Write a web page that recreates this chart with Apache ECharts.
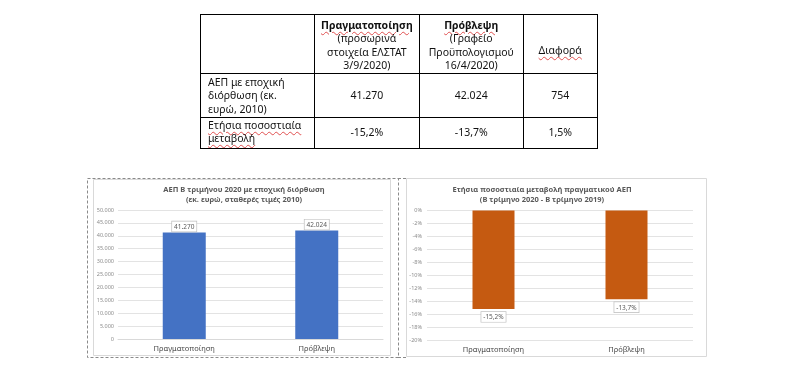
<!DOCTYPE html>
<html><head><meta charset="utf-8">
<script src="https://cdn.jsdelivr.net/npm/echarts@6/dist/echarts.min.js"></script>
<style>
html,body{margin:0;padding:0;background:#fff;width:799px;height:391px;overflow:hidden}
#c{position:absolute;left:0;top:0;width:799px;height:391px}
table{position:absolute;left:200px;top:14px;border-collapse:collapse;font-family:"Noto Sans",sans-serif;font-size:10.5px;line-height:13.3px;color:#111;table-layout:fixed}
td{border:1.3px solid #000;padding:0 6px;overflow:hidden;text-align:center;vertical-align:middle}
td.lbl{text-align:left;vertical-align:top;padding-left:7px}
.sq{text-decoration:underline wavy #e05050;text-decoration-thickness:0.7px;text-underline-offset:1.5px}
b{font-weight:700}
</style></head>
<body>
<div id="c"></div>
<table id="t"></table>
<script>
// ---- data ----
const tableHeaders = [
  [],
  ['<b class="sq">Πραγματοποίηση</b>', '(προσωρινά', 'στοιχεία ΕΛΣΤΑΤ', '3/9/2020)'],
  ['<b class="sq">Πρόβλεψη</b>', '(Γραφείο', 'Προϋπολογισμού', '16/4/2020)'],
  ['<span class="sq">Διαφορά</span>']
];
const tableRowLabels = [
  ['ΑΕΠ με εποχική', 'διόρθωση (εκ.', 'ευρώ, 2010)'],
  ['<span class="sq">Ετήσια ποσοστιαία</span>', '<span class="sq">μεταβολή</span>']
];
const tableValues = [
  ['41.270', '42.024', '754'],
  ['-15,2%', '-13,7%', '1,5%']
];
const categories = ['Πραγματοποίηση', 'Πρόβλεψη'];
const gdpValues = [41270, 42024];
const changeValues = [-15.2, -13.7];
const gdpTitle = ['ΑΕΠ Β τριμήνου 2020 με εποχική διόρθωση', '(εκ. ευρώ, σταθερές τιμές 2010)'];
const changeTitle = ['Ετήσια ποσοστιαία μεταβολή πραγματικού ΑΕΠ', '(Β τρίμηνο 2020 - Β τρίμηνο 2019)'];

// ---- table ----
const colW = [114, 104, 104, 74];
const rowH = [59, 44, 31];
let html = '<colgroup>' + colW.map(w => '<col style="width:' + w + 'px">').join('') + '</colgroup>';
html += '<tr style="height:' + rowH[0] + 'px">' + tableHeaders.map((h, i) =>
  '<td style="padding-top:' + (i === 3 ? 14 : 3) + 'px">' + h.join('<br>') + '</td>').join('') + '</tr>';
tableRowLabels.forEach((r, k) => {
  html += '<tr style="height:' + rowH[k + 1] + 'px"><td class="lbl" style="padding-top:' + (k === 0 ? 2 : 1) + 'px">' + r.join('<br>') + '</td>' +
    tableValues[k].map(v => '<td>' + v + '</td>').join('') + '</tr>';
});
document.getElementById('t').innerHTML = html;

// ---- charts ----
const fmtThousands = v => String(v).replace(/\B(?=(\d{3})+(?!\d))/g, '.');
const fmtPct = v => String(v).replace('.', ',') + '%';
const grey = '#595959';
const font = '"Noto Sans", sans-serif';
const chart = echarts.init(document.getElementById('c'), null, {renderer: 'canvas'});
const labelBox = {
  show: true, fontSize: 6.5, color: grey, fontFamily: font,
  backgroundColor: '#fff', borderColor: '#bfbfbf', borderWidth: 0.7, padding: [2, 2, 1, 2]
};
const titleStyle = {align: 'center', verticalAlign: 'middle', fontSize: 7.5, fontWeight: 'bold', fontFamily: font, fill: grey, lineHeight: 10};
chart.setOption({
  animation: false,
  textStyle: {fontFamily: font},
  grid: [
    {left: 118, right: 416, top: 210, bottom: 52},
    {left: 427, right: 106, top: 210.5, bottom: 51}
  ],
  xAxis: [
    {gridIndex: 0, type: 'category', data: categories, axisTick: {show: false},
      axisLine: {lineStyle: {color: '#d9d9d9'}},
      axisLabel: {fontSize: 7.5, color: '#4a4a4a', margin: 6}},
    {gridIndex: 1, type: 'category', data: categories, axisTick: {show: false},
      axisLine: {show: false, onZero: false}, position: 'bottom',
      axisLabel: {fontSize: 7.5, color: '#4a4a4a', margin: 6}}
  ],
  yAxis: [
    {gridIndex: 0, type: 'value', min: 0, max: 50000, interval: 5000,
      axisLabel: {fontSize: 5.5, color: '#8c8c8c', margin: 4, formatter: fmtThousands},
      splitLine: {lineStyle: {color: '#e3e3e3'}}},
    {gridIndex: 1, type: 'value', min: -20, max: 0, interval: 2,
      axisLabel: {fontSize: 5.5, color: '#8c8c8c', margin: 5, formatter: v => v + '%'},
      splitLine: {lineStyle: {color: '#e3e3e3'}}}
  ],
  series: [
    {type: 'bar', xAxisIndex: 0, yAxisIndex: 0, data: gdpValues, barWidth: 43,
      itemStyle: {color: '#4472C4'},
      label: Object.assign({}, labelBox, {position: 'top', distance: 1, formatter: p => fmtThousands(p.value)})},
    {type: 'bar', xAxisIndex: 1, yAxisIndex: 1, data: changeValues, barWidth: 42,
      itemStyle: {color: '#C55A11'},
      label: Object.assign({}, labelBox, {position: 'bottom', distance: 3, formatter: p => fmtPct(p.value)})}
  ],
  graphic: [
    {type: 'rect', shape: {x: 87.5, y: 178.5, width: 311, height: 179}, style: {fill: 'none', stroke: '#8a8a8a', lineWidth: 1, lineDash: [3, 2]}, z: 1},
    {type: 'line', shape: {x1: 398, y1: 178.5, x2: 406, y2: 178.5}, style: {stroke: '#8a8a8a', lineWidth: 1, lineDash: [3, 2]}},
    {type: 'line', shape: {x1: 398, y1: 357.5, x2: 406, y2: 357.5}, style: {stroke: '#8a8a8a', lineWidth: 1, lineDash: [3, 2]}},
    {type: 'rect', shape: {x: 93.5, y: 179.5, width: 297, height: 176}, style: {fill: 'none', stroke: '#d9d9d9', lineWidth: 1}},
    {type: 'rect', shape: {x: 406.5, y: 178.5, width: 300, height: 178}, style: {fill: 'none', stroke: '#d9d9d9', lineWidth: 1}},
    {type: 'text', x: 244, y: 195, style: Object.assign({text: gdpTitle.join('\n')}, titleStyle)},
    {type: 'text', x: 542, y: 195, style: Object.assign({text: changeTitle.join('\n')}, titleStyle)}
  ]
});
</script>
</body></html>
